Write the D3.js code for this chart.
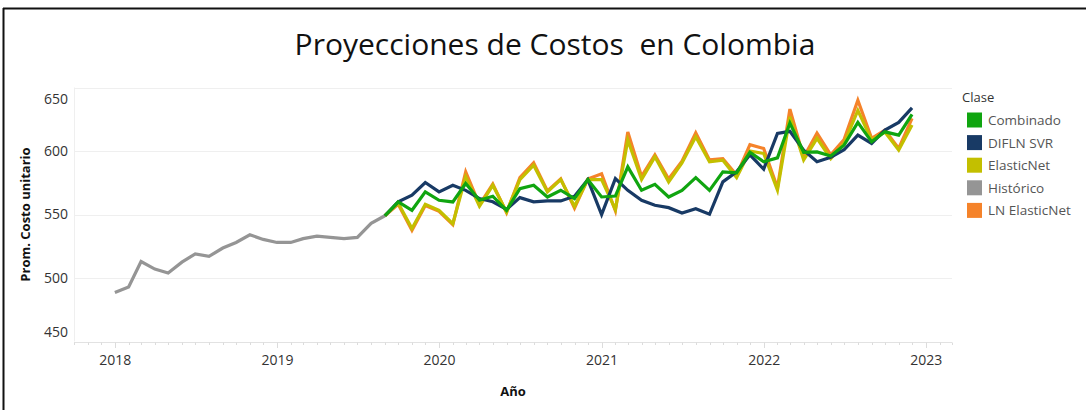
<!DOCTYPE html>
<html>
<head>
<meta charset="utf-8">
<script src="https://cdn.jsdelivr.net/npm/d3@7"></script>
<style>
body { margin: 0; background: #fff; }
svg { display: block; }
</style>
</head>
<body>
<div id="chart"></div>
<script>
// valores mensuales
var histStart = new Date(2018, 0, 1);
var historico = [488.6, 493, 513, 507, 504, 512.5, 519, 517, 523.6, 528, 534, 530.4,
    528, 528, 531, 533, 532, 531, 532, 543, 549];

var fcStart = new Date(2019, 8, 1);
var combinado = [549, 560, 553.3, 567.8, 561.2, 559.9, 574.4, 561.2, 564.4, 553.3, 570.4, 573,
    563.8, 569.1, 562.5, 577.5, 563.8, 564.5, 587.5, 569.1, 573.8, 563.8, 569, 579, 569, 583.6,
    582.8, 599, 591.5, 594.6, 622, 599, 599.3, 596, 604.6, 622.5, 607.2, 615.1, 612.5, 628.8];
var diflnSvr = [549, 560, 565.2, 575.2, 567.8, 573, 569, 562.5, 560, 554, 563.3, 560,
    560.7, 560.7, 564.4, 577.5, 550, 578.3, 569, 561.2, 557.3, 555.4, 551.2, 554.6, 550.2, 575.7,
    583.6, 597, 585.7, 613.8, 615.5, 600.7, 591.5, 595, 601, 612.5, 606, 616.5, 622.5, 634];
var elasticNet = [549, 559, 539, 558, 553.3, 542.8, 579.6, 556.5, 573, 552, 577.5, 588.8,
    567.8, 577.5, 556.5, 577.5, 577.5, 554, 608.6, 577.5, 595.4, 575.7, 590.7, 611.2, 591.5, 592.8,
    579.1, 600, 598, 569.1, 627, 593, 610, 594, 606, 632, 608.6, 615, 600.7, 620.4];
var lnElasticNet = [549, 558, 537.5, 557, 552.5, 542, 583.6, 557.5, 574, 551.5, 579, 590.7,
    568.5, 578, 555, 578, 582, 553, 615, 580, 597, 578, 592, 614.3, 593, 594,
    581, 605, 602, 571, 633, 595, 614, 597, 609, 640, 610, 616.5, 602, 625.7];

var clases = ["Combinado", "DIFLN SVR", "ElasticNet", "Histórico", "LN ElasticNet"];
var colores = ["#10a510", "#183a65", "#c3bf00", "#959595", "#f5832a"];
var yTicks = [450, 500, 550, 600, 650];

var width = 1086, height = 410;
var pLeft = 74, pRight = 952, pTop = 87.5, pBottom = 341.5;

var svg = d3.select("#chart").append("svg")
    .attr("width", width)
    .attr("height", height);

// marco
svg.append("line").attr("x1", 3).attr("x2", width).attr("y1", 8.5).attr("y2", 8.5)
    .attr("stroke", "#111").attr("stroke-width", 2);
svg.append("line").attr("x1", 3.5).attr("x2", 3.5).attr("y1", 8).attr("y2", height)
    .attr("stroke", "#111").attr("stroke-width", 2);

var title = svg.append("text")
    .attr("x", 555)
    .attr("y", 55)
    .attr("text-anchor", "middle")
    .attr("font-family", "Open Sans, sans-serif")
    .attr("font-size", "30px")
    .attr("fill", "#111")
    .attr("xml:space", "preserve")
    .style("white-space", "pre")
    .text("Proyecciones de Costos  en Colombia");
if (title.node().getComputedTextLength() > 524) {
    title.attr("textLength", 524).attr("lengthAdjust", "spacingAndGlyphs");
}

var x = d3.scaleTime()
    .domain([new Date(2017, 9, 1), new Date(2023, 2, 1)])
    .range([pLeft, pRight]);

var y = d3.scaleLinear()
    .domain([450, 650])
    .range([pBottom, pTop]);

// rejilla
svg.append("g")
    .selectAll("line")
    .data(yTicks)
    .enter().append("line")
    .attr("x1", pLeft).attr("x2", pRight)
    .attr("y1", function(d){ return Math.round(y(d)) + 0.5; })
    .attr("y2", function(d){ return Math.round(y(d)) + 0.5; })
    .attr("stroke", function(d){ return d == 450 ? "#e2e2e2" : "#efefef"; });

svg.append("line")
    .attr("x1", pLeft + 0.5).attr("x2", pLeft + 0.5)
    .attr("y1", pTop).attr("y2", pBottom)
    .attr("stroke", "#efefef");

// marcas mensuales
svg.append("g")
    .selectAll("line")
    .data(x.ticks(d3.timeMonth.every(1)))
    .enter().append("line")
    .attr("x1", function(d){ return Math.round(x(d)) + 0.5; })
    .attr("x2", function(d){ return Math.round(x(d)) + 0.5; })
    .attr("y1", Math.round(pBottom) + 0.5)
    .attr("y2", function(d){ return Math.round(pBottom) + (d.getMonth() == 0 ? 6 : 3); })
    .attr("stroke", "#dcdcdc");

var yAxis = svg.append("g")
    .attr("transform", "translate(" + (pLeft - 6) + ",0)")
    .call(d3.axisLeft(y).tickValues(yTicks).tickSize(0).tickPadding(0));
yAxis.select(".domain").remove();
yAxis.selectAll("text")
    .attr("font-family", "Open Sans, sans-serif")
    .attr("font-size", "14px")
    .attr("fill", "#333")
    .attr("dy", function(d){
        if (d == 650) return "1.15em";
        if (d == 450) return "-0.35em";
        return "0.32em";
    });

var xAxis = svg.append("g")
    .attr("transform", "translate(0," + pBottom + ")")
    .call(d3.axisBottom(x).ticks(d3.timeYear.every(1)).tickFormat(d3.timeFormat("%Y")).tickSize(0).tickPadding(14));
xAxis.select(".domain").remove();
xAxis.selectAll("text")
    .attr("font-family", "Open Sans, sans-serif")
    .attr("font-size", "14px")
    .attr("fill", "#333");

svg.append("text")
    .attr("transform", "translate(30," + ((pTop + pBottom) / 2) + ") rotate(-90)")
    .attr("text-anchor", "middle")
    .attr("font-family", "Open Sans, sans-serif")
    .attr("font-weight", "bold")
    .attr("font-size", "13px")
    .attr("fill", "#111")
    .text("Prom. Costo unitario");

svg.append("text")
    .attr("x", (pLeft + pRight) / 2)
    .attr("y", 396)
    .attr("text-anchor", "middle")
    .attr("font-family", "Open Sans, sans-serif")
    .attr("font-weight", "bold")
    .attr("font-size", "13px")
    .attr("fill", "#111")
    .text("Año");

// series
function serie(start, values) {
    return values.map(function(v, i){
        return { date: d3.timeMonth.offset(start, i), value: v };
    });
}

var series = [
    { clase: "LN ElasticNet", data: serie(fcStart, lnElasticNet) },
    { clase: "ElasticNet", data: serie(fcStart, elasticNet) },
    { clase: "Histórico", data: serie(histStart, historico) },
    { clase: "DIFLN SVR", data: serie(fcStart, diflnSvr) },
    { clase: "Combinado", data: serie(fcStart, combinado) }
];

var color = d3.scaleOrdinal().domain(clases).range(colores);

var line = d3.line()
    .x(function(d){ return x(d.date); })
    .y(function(d){ return y(d.value); });

svg.append("g")
    .selectAll("path")
    .data(series)
    .enter().append("path")
    .attr("d", function(d){ return line(d.data); })
    .attr("fill", "none")
    .attr("stroke", function(d){ return color(d.clase); })
    .attr("stroke-width", 3.2)
    .attr("stroke-linejoin", "miter")
    .attr("stroke-linecap", "butt");

// leyenda
var leg = svg.append("g")
    .attr("transform", "translate(962,0)");

leg.append("text")
    .attr("x", 0)
    .attr("y", 102)
    .attr("font-family", "Open Sans, sans-serif")
    .attr("font-size", "13px")
    .attr("fill", "#333")
    .text("Clase");

var item = leg.selectAll(".item")
    .data(clases)
    .enter().append("g")
    .attr("transform", function(d, i){ return "translate(0," + (120 + i * 22.6) + ")"; });

item.append("rect")
    .attr("x", 5)
    .attr("y", -7.5)
    .attr("width", 15)
    .attr("height", 15)
    .attr("fill", function(d){ return color(d); });

item.append("text")
    .attr("x", 26)
    .attr("y", 5)
    .attr("font-family", "Open Sans, sans-serif")
    .attr("font-size", "13.5px")
    .attr("fill", "#555")
    .text(function(d){ return d; });
</script>
</body>
</html>
